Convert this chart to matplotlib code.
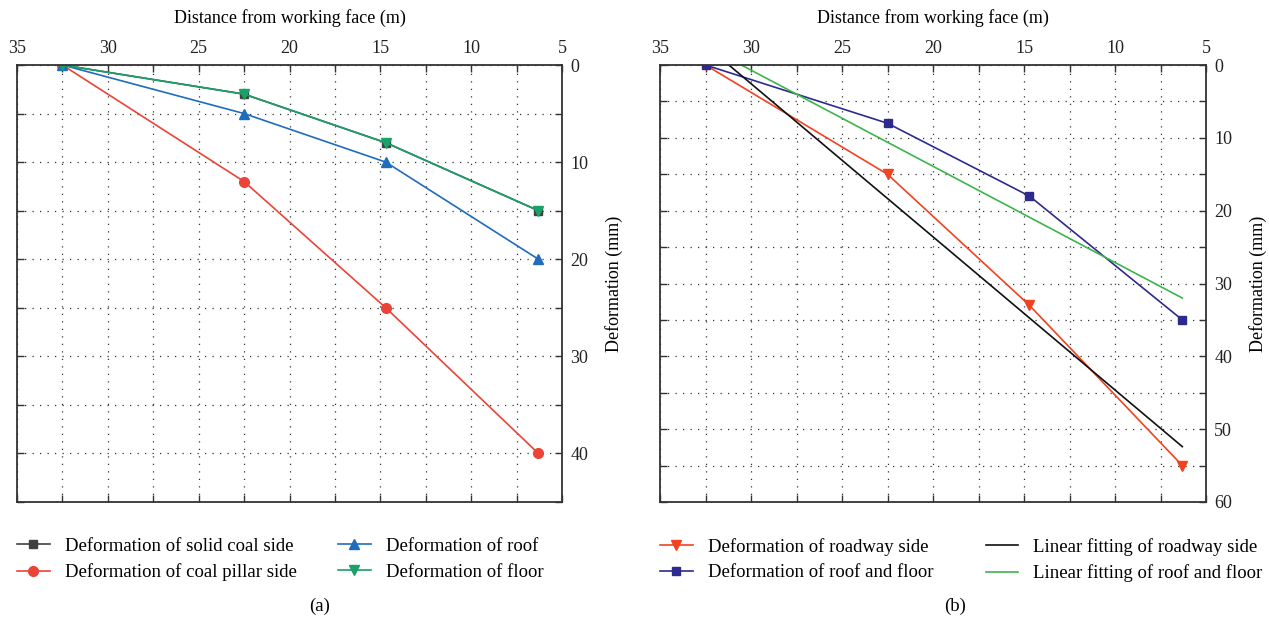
import matplotlib.pyplot as plt
from matplotlib.ticker import MultipleLocator

plt.rcParams['font.family'] = ['Liberation Serif', 'DejaVu Serif']
plt.rcParams['font.size'] = 13

# distance from working face (m)
dist = [32.5, 22.5, 14.7, 6.3]

# (a) deformation (mm)
solid_coal = [0, 3, 8, 15]
coal_pillar = [0, 12, 25, 40]
roof = [0, 5, 10, 20]
floor = [0, 3, 8, 15]

# (b) deformation (mm)
roadway = [0, 15, 33, 55]
roof_floor = [0, 8, 18, 35]
# fitted lines, end points
fit_x = [32.5, 6.3]
roadway_fit = [-2.7, 52.4]
roof_floor_fit = [-2.6, 32.0]

W, H = 1269, 622
fig = plt.figure(figsize=(W/100, H/100), dpi=100)
ax1 = fig.add_axes([17/W, (H-502)/H, 545/W, 437/H])
ax2 = fig.add_axes([660/W, (H-502)/H, 546/W, 437/H])


def style(ax, ymax):
    ax.set_xlim(35, 5)
    ax.set_ylim(ymax, 0)
    ax.xaxis.set_major_locator(MultipleLocator(5))
    ax.xaxis.set_minor_locator(MultipleLocator(2.5))
    ax.yaxis.set_major_locator(MultipleLocator(10))
    ax.yaxis.set_minor_locator(MultipleLocator(5))
    ax.tick_params(which='both', direction='in', top=True, bottom=True,
                   left=True, right=True, labeltop=True, labelbottom=False,
                   labelright=True, labelleft=False, length=5, width=1,
                   colors='#333333', labelcolor='#222222')
    ax.tick_params(which='major', pad=6)
    ax.xaxis.set_label_position('top')
    ax.yaxis.set_label_position('right')
    ax.set_xlabel('Distance from working face (m)', labelpad=12)
    ax.set_ylabel('Deformation (mm)', labelpad=12)
    ax.grid(True, which='both', linestyle=(0, (1, 5)), color='#333333',
            linewidth=0.9)
    for s in ax.spines.values():
        s.set_linewidth(1.3)
        s.set_color('#333333')


leg_kw = dict(loc='upper left', bbox_to_anchor=(-0.014, -0.065), ncol=2,
              frameon=False, handlelength=1.75, handletextpad=0.8,
              labelspacing=0.45, borderaxespad=0, prop={'size': 13.5})

style(ax1, 45)
ax1.plot(dist, solid_coal, color='#404040', marker='s', ms=6, lw=1.2,
         label='Deformation of solid coal side')
ax1.plot(dist, coal_pillar, color='#ec4338', marker='o', ms=7, lw=1.2,
         label='Deformation of coal pillar side')
ax1.plot(dist, roof, color='#1f6cbd', marker='^', ms=7, lw=1.2,
         label='Deformation of roof')
ax1.plot(dist, floor, color='#1aa16a', marker='v', ms=7, lw=1.2,
         label='Deformation of floor')
ax1.legend(columnspacing=2.2, **leg_kw)

style(ax2, 60)
ax2.plot(dist, roadway, color='#f2421f', marker='v', ms=7, lw=1.2,
         label='Deformation of roadway side')
ax2.plot(dist, roof_floor, color='#2d2a8e', marker='s', ms=6, lw=1.2,
         label='Deformation of roof and floor')
ax2.plot(fit_x, roadway_fit, color='#111111', lw=1.2,
         label='Linear fitting of roadway side')
ax2.plot(fit_x, roof_floor_fit, color='#3cb54a', lw=1.2,
         label='Linear fitting of roof and floor')
ax2.legend(columnspacing=2.8, **leg_kw)

fig.text(320/W, 1-606/H, '(a)', ha='center', va='center', fontsize=13.5)
fig.text(955/W, 1-606/H, '(b)', ha='center', va='center', fontsize=13.5)

fig.savefig('out.png', dpi=100)
